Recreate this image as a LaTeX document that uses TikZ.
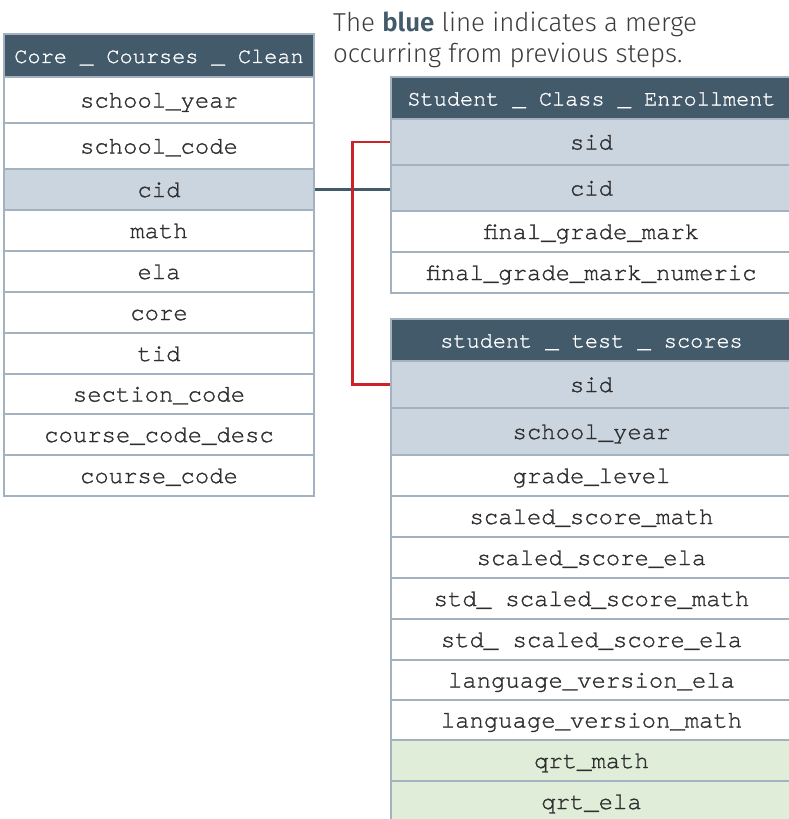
\documentclass[tikz,border=0pt]{standalone}
\usepackage{fontspec}
\setmonofont{texgyrecursor-regular.otf}[FakeBold=1.2]
\newfontfamily\capfont{Fira Sans Light}[BoldFont={Fira Sans SemiBold}]
\definecolor{hdrc}{HTML}{435A6B}
\definecolor{keyc}{HTML}{CBD5DF}
\definecolor{qrtc}{HTML}{DFEDD9}
\definecolor{gridc}{HTML}{A3B2C1}
\definecolor{textc}{HTML}{2E2E2E}
\definecolor{capc}{HTML}{3C3C3C}
\definecolor{redc}{HTML}{CC2229}
\tikzset{
  cell/.style={draw=gridc, line width=1.3bp, fill=white, inner sep=0pt,
    text=textc, font=\ttfamily\fontsize{24}{24}\selectfont,
    text height=17bp, text depth=2bp},
  hdr/.style={cell, fill=hdrc, text=white, font=\ttfamily\fontsize{22}{22}\selectfont},
  keyrow/.style={cell, fill=keyc},
  qrtrow/.style={cell, fill=qrtc},
  lt/.style={minimum width=310bp},
  rt/.style={minimum width=401bp},
  caption/.style={inner sep=0pt, anchor=base west, text=capc,
    font=\capfont\fontsize{26}{31}\selectfont},
  merge/.style={draw=hdrc, line width=2.5bp},
  link/.style={draw=redc, line width=2.5bp}
}
\begin{document}
\begin{tikzpicture}[x=1bp, y=-1bp]
\useasboundingbox (0,0) rectangle (789,819);
\clip (0,0) rectangle (789,819);

% Core_Courses_Clean
\node[hdr,    lt, minimum height=43bp] (cc)   at (159,55.5)  {Core \_ Courses \_ Clean};
\node[cell,   lt, minimum height=46bp] (cc1)  at (159,100)   {school\_year};
\node[cell,   lt, minimum height=46bp] (cc2)  at (159,146)   {school\_code};
\node[keyrow, lt, minimum height=41bp] (cc3)  at (159,189.5) {cid};
\node[cell,   lt, minimum height=41bp] (cc4)  at (159,230.5) {math};
\node[cell,   lt, minimum height=41bp] (cc5)  at (159,271.5) {ela};
\node[cell,   lt, minimum height=41bp] (cc6)  at (159,312.5) {core};
\node[cell,   lt, minimum height=41bp] (cc7)  at (159,353.5) {tid};
\node[cell,   lt, minimum height=40bp] (cc8)  at (159,394)   {section\_code};
\node[cell,   lt, minimum height=41bp] (cc9)  at (159,434.5) {course\_code\_desc};
\node[cell,   lt, minimum height=41bp] (cc10) at (159,475.5) {course\_code};

% Student_Class_Enrollment
\node[hdr,    rt, minimum height=42bp] (sce)  at (591.5,98)    {Student \_ Class \_ Enrollment};
\node[keyrow, rt, minimum height=46bp] (sce1) at (591.5,142)   {sid};
\node[keyrow, rt, minimum height=46bp] (sce2) at (591.5,188)   {cid};
\node[cell,   rt, minimum height=41bp] (sce3) at (591.5,231.5) {final\_grade\_mark};
\node[cell,   rt, minimum height=41bp] (sce4) at (591.5,272.5) {final\_grade\_mark\_numeric};

% student_test_scores
\node[hdr,    rt, minimum height=42bp] (sts)   at (591.5,340)   {student \_ test \_ scores};
\node[keyrow, rt, minimum height=47bp] (sts1)  at (591.5,384.5) {sid};
\node[keyrow, rt, minimum height=47bp] (sts2)  at (591.5,431.5) {school\_year};
\node[cell,   rt, minimum height=41bp] (sts3)  at (591.5,475.5) {grade\_level};
\node[cell,   rt, minimum height=41bp] (sts4)  at (591.5,516.5) {scaled\_score\_math};
\node[cell,   rt, minimum height=41bp] (sts5)  at (591.5,557.5) {scaled\_score\_ela};
\node[cell,   rt, minimum height=41bp] (sts6)  at (591.5,598.5) {std\_ scaled\_score\_math};
\node[cell,   rt, minimum height=41bp] (sts7)  at (591.5,639.5) {std\_ scaled\_score\_ela};
\node[cell,   rt, minimum height=40bp] (sts8)  at (591.5,680)   {language\_version\_ela};
\node[cell,   rt, minimum height=40bp] (sts9)  at (591.5,720)   {language\_version\_math};
\node[qrtrow, rt, minimum height=41bp] (sts10) at (591.5,760.5) {qrt\_math};
\node[qrtrow, rt, minimum height=41bp] (sts11) at (591.5,801.5) {qrt\_ela};

% connectors
\draw[merge] (cc3.east) -- (sce2.west |- cc3.east);
\draw[link] (sce1.west) -- ++(-38,0) |- (sts1.west);

% note
\node[caption] (cap1) at (333,32) {The \textbf{\textcolor{hdrc}{blue}} line indicates a merge};
\node[caption] (cap2) at (333,63) {occurring from previous steps.};
\end{tikzpicture}
\end{document}
